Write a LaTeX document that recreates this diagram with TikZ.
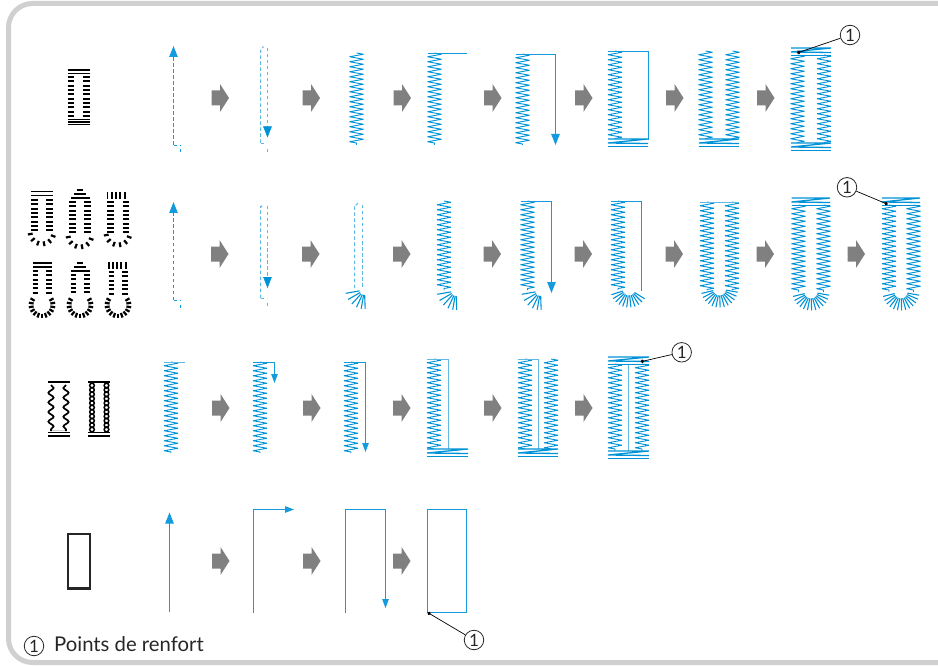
\documentclass[tikz,border=0pt]{standalone}
\usepackage{fontspec}
\setmainfont{Lato}
\usetikzlibrary{arrows.meta,decorations.pathmorphing}
\definecolor{stitchblue}{RGB}{0,146,214}
\definecolor{guideblue}{RGB}{20,155,222}
\definecolor{paleblue}{RGB}{95,185,228}
\definecolor{arrowgray}{RGB}{128,128,128}
\definecolor{framegray}{RGB}{208,208,208}
\tikzset{
  stitch/.style={stitchblue, line width=0.9, line join=bevel, decorate,
    decoration={zigzag, amplitude=7, segment length=5}},
  barline/.style={stitchblue, line width=1.3, line join=bevel},
  ray/.style={stitchblue, line width=1.1},
  guide/.style={guideblue, line width=1},
  paleguide/.style={paleblue, line width=1},
  dashline/.style={guideblue, line width=1, dash pattern=on 3.5 off 2.5},
  paledash/.style={paleblue, line width=1, dash pattern=on 3.5 off 2.5},
  bighead/.style={-{Triangle[length=11,width=8.5]}},
  smallhead/.style={-{Triangle[length=9,width=6.5]}},
  tick/.style={black, line width=1.9},
  leader/.style={black, line width=0.7, -{Circle[length=3.5,width=3.5]}},
  callout/.style={circle, draw=black!85, line width=0.8, inner sep=0, minimum size=19.5,
    text=black!85, font=\fontsize{17}{17}\selectfont},
}
\newcommand{\grayarrow}[2]{%
  \fill[arrowgray] (#1,#2-7.5) -- ++(8.5,0) -- ++(0,-6.5) -- ++(9,14) -- ++(-9,14) -- ++(0,-6.5) -- ++(-8.5,0) -- cycle;}
\newcommand{\stitchcol}[3]{\draw[stitch] (#1,#2) -- (#1,#3);}
\newcommand{\stitchbar}[3]{%
  \draw[barline] (#1,#3) -- (#2,#3) -- (#1,#3+4) -- (#2,#3+4.5);
  \draw[barline] (#1,#3+7.5) -- (#2,#3+7.5);}
\newcommand{\sidefan}[2]{%
  \foreach \a in {170,150,132,115,100,88} \draw[ray] (#1,#2) ++(\a:5) -- ++(\a:14);}
\newcommand{\roundfan}[5]{%
  \foreach \a in {#3,#4,...,#5} \draw[ray] (#1,#2) ++(\a:6.5) -- ++(\a:12);}
\newcommand{\iconrows}[5]{%
  \foreach \n in {1,...,#3} {
    \draw[tick] (#1-#5,#2+4.35*\n-4.35) -- (#1-#4,#2+4.35*\n-4.35);
    \draw[tick] (#1+#4,#2+4.35*\n-4.35) -- (#1+#5,#2+4.35*\n-4.35);}}
\newcommand{\iconfan}[6]{%
  \foreach \a in {#4,#5,...,#6} \draw[tick, line width=2.2] (#1,#2) ++(\a:#3) -- ++(\a:4.8);}
\newcommand{\iconpyramid}[2]{%
  \draw[tick] (#1-3.3,#2) -- (#1+3.3,#2);
  \draw[tick] (#1-6,#2+4) -- (#1+6,#2+4);
  \draw[tick] (#1-9.5,#2+8) -- (#1+9.5,#2+8);}
\begin{document}
\begin{tikzpicture}[x=1pt, y=-1pt, line cap=butt]
  \useasboundingbox (0,0) rectangle (938,666);
  \draw[framegray, line width=5, rounded corners=24] (938,3.5) -| (8.5,662.5) -- (938,662.5);

  \draw[tick] (67.5,70) -- (90,70);
  \draw[tick, line width=1] (67.5,73.5) -- (90,73.5);
  \iconrows{78.7}{77}{10}{4.6}{11.2}
  \draw[tick, line width=1.1] (67.5,119.3) -- (90,119.3);
  \draw[tick, line width=1.1] (67.5,122) -- (90,122);
  \draw[tick, line width=1.1] (67.5,124.7) -- (90,124.7);

  \draw[dashline, bighead] (173.5,145) -- (173.5,46);
  \draw[dashline] (173.5,145.5) -- (180.5,145.5);
  \draw[dashline] (180.5,149.5) -- (180.5,152.5);
  \grayarrow{211.5}{98}
  \draw[paledash] (260.5,143) -- (260.5,51) to[out=-90,in=-150] (263.5,46.5);
  \draw[paledash] (267.5,48) -- (267.5,126);
  \draw[stitchblue, bighead] (267.5,126) -- (267.5,137.5);
  \draw[paledash] (260.5,143.5) -- (266.5,143.5);
  \draw[paledash] (267.5,149.5) -- (267.5,152.5);
  \grayarrow{302.5}{98}
  \stitchcol{356.5}{53}{145}
  \grayarrow{393.5}{98}
  \stitchcol{434.5}{53}{145}
  \draw[guide] (428,53.5) -- (467,53.5);
  \grayarrow{484}{98}
  \stitchcol{522.5}{54}{145}
  \draw[guide, bighead] (516,54.5) -| (555.5,145);
  \grayarrow{575}{98}
  \stitchcol{615}{51}{139}
  \draw[guide] (608,51.5) -| (648.5,140);
  \stitchbar{608}{648}{139}
  \grayarrow{666}{98}
  \stitchcol{705.5}{51}{139}
  \stitchcol{732.5}{51}{139}
  \stitchbar{699}{739}{139}
  \grayarrow{757}{98}
  \stitchcol{797.5}{55}{143}
  \stitchcol{824}{55}{143}
  \stitchbar{791}{831}{48}
  \stitchbar{791}{831}{143}
  \coordinate (pointA) at (797,53);
  \node[callout] (markA) at (850,35) {1};
  \draw[leader] (markA) -- (pointA);

  \draw[tick] (31,191.5) -- (53,191.5);
  \draw[tick] (31,195.5) -- (53,195.5);
  \iconrows{42}{200}{8}{4.3}{11}
  \iconfan{42}{232}{9.5}{20}{50}{170}
  \iconpyramid{80}{190}
  \iconrows{80}{202}{8}{4}{10.7}
  \iconfan{80}{235}{9.5}{20}{50}{170}
  \foreach \x in {107.5,111.8,...,129} \draw[tick] (\x,192.3) -- (\x,199);
  \iconrows{118}{202}{8}{4.5}{11}
  \iconfan{118}{233}{9.5}{20}{50}{170}
  \draw[tick] (32.7,262.7) -- (51.7,262.7);
  \draw[tick] (32.7,266.7) -- (51.7,266.7);
  \iconrows{42}{271}{6}{4}{9.5}
  \iconfan{42}{305}{8.5}{-30}{-10}{210}
  \iconpyramid{80}{262.7}
  \iconrows{80}{275}{5}{4}{9.5}
  \iconfan{80}{305}{8.5}{-30}{-10}{210}
  \foreach \x in {108.8,113,...,127} \draw[tick] (\x,262.3) -- (\x,268.5);
  \iconrows{118}{272}{6}{4}{9.5}
  \iconfan{118}{305}{8.5}{-30}{-10}{210}

  \draw[dashline, bighead] (173.5,300) -- (173.5,202);
  \draw[dashline] (173.5,300.5) -- (180.5,300.5);
  \draw[dashline] (180.5,304.5) -- (180.5,307.5);
  \grayarrow{211}{254}
  \draw[paledash] (260.5,298) -- (260.5,207) to[out=-90,in=-150] (263.5,204);
  \draw[paledash] (267.5,206) -- (267.5,277);
  \draw[stitchblue, bighead] (267.5,277) -- (267.5,288);
  \draw[paledash] (260.5,298.5) -- (266.5,298.5);
  \draw[paledash] (267.5,303) -- (267.5,306);
  \grayarrow{302}{254}
  \draw[paledash] (354.5,288) -- (354.5,206) to[out=-90,in=-150] (358,203);
  \draw[paledash] (362.5,205) -- (362.5,288);
  \sidefan{364.5}{290}
  \grayarrow{393}{254}
  \stitchcol{444}{201}{290}
  \sidefan{456}{291}
  \grayarrow{483.5}{254}
  \stitchcol{527.5}{201}{290}
  \sidefan{540.5}{291}
  \draw[guide, bighead] (521,201.5) -| (551.5,293);
  \grayarrow{574.5}{254}
  \stitchcol{618}{201}{290}
  \draw[guide] (611,201.5) -| (641.5,291);
  \roundfan{629}{289}{32}{45}{170}
  \grayarrow{665.5}{254}
  \stitchcol{707}{202}{290}
  \stitchcol{732}{202}{290}
  \draw[paleguide] (700,202.5) -- (739,202.5);
  \roundfan{719.5}{289}{10}{23}{170}
  \grayarrow{756.5}{254}
  \stitchcol{798.5}{205}{292}
  \stitchcol{823.5}{205}{292}
  \stitchbar{791.5}{830}{198}
  \roundfan{811}{292}{10}{23}{170}
  \grayarrow{847.5}{254}
  \stitchcol{889}{205}{292}
  \stitchcol{913.5}{205}{292}
  \stitchbar{882}{920}{198}
  \roundfan{901}{292}{10}{23}{170}
  \coordinate (pointB) at (887.7,204.3);
  \node[callout] (markB) at (847,187.3) {1};
  \draw[leader] (markB) -- (pointB);

  \draw[tick] (48,381.7) -- (70,381.7);
  \draw[black, line width=1.7, decorate, decoration={snake, amplitude=2.6, segment length=9.6}] (51,385) -- (51,431);
  \draw[black, line width=1.7, decorate, decoration={snake, amplitude=2.6, segment length=9.6, mirror}] (66,385) -- (66,431);
  \draw[framegray, line width=0.8] (52,430.5) -- (65,430.5);
  \draw[tick, line width=1.1] (48,432.5) -- (70,432.5);
  \draw[tick, line width=1.1] (48,436) -- (70,436);
  \draw[tick] (88,381.7) -- (110,381.7);
  \foreach \n in {0,...,10} {
    \draw[black, line width=1.5] (92,385.5+4.4*\n) circle (2.3);
    \draw[black, line width=1.5] (106.5,385.5+4.4*\n) circle (2.3);}
  \draw[tick, line width=1.1] (88,432.5) -- (110,432.5);
  \draw[tick, line width=1.1] (88,436) -- (110,436);

  \stitchcol{171}{362}{453}
  \draw[paleguide] (164,362.5) -- (185,362.5);
  \grayarrow{212}{408}
  \stitchcol{260}{362}{453}
  \draw[guide, smallhead] (253,362.5) -| (274.5,383);
  \grayarrow{303}{408}
  \stitchcol{351}{362}{453}
  \draw[guide, smallhead] (344,362.5) -| (365.5,452);
  \grayarrow{393}{408}
  \stitchcol{434}{359}{449}
  \draw[paleguide] (427,359.5) -| (448.5,449);
  \stitchbar{427}{468}{449}
  \grayarrow{484}{408}
  \stitchcol{525}{359}{449}
  \stitchcol{551}{359}{449}
  \draw[paleguide] (518,359.5) -| (538.5,449);
  \stitchbar{518}{558}{449}
  \grayarrow{575}{408}
  \stitchcol{615}{364}{451}
  \stitchcol{642}{364}{451}
  \draw[paleguide] (628.5,364) -- (628.5,451);
  \stitchbar{608}{649}{357}
  \stitchbar{608}{649}{451}
  \coordinate (pointC) at (640.7,361.7);
  \node[callout] (markC) at (681.7,352.3) {1};
  \draw[leader] (markC) -- (pointC);

  \draw[black!85, line width=2.3] (67.7,534) rectangle (90,588.5);
  \draw[guide, bighead] (169.5,612) -- (169.5,512.5);
  \grayarrow{212}{561}
  \draw[guide, smallhead] (253.5,612.5) |- (294,509.5);
  \grayarrow{303}{561}
  \draw[guide, smallhead] (345.5,612.5) |- (385.5,509.5) -- (385.5,608);
  \grayarrow{393}{561}
  \draw[guide] (427.5,509.5) rectangle (466.5,612.5);
  \coordinate (pointD) at (427.6,612.5);
  \node[callout] (markD) at (474,640) {1};
  \draw[leader] (markD) -- (pointD);

  \node[callout] (markE) at (34,646) {1};
  \node[anchor=base west, inner sep=0, text=black!85, font=\fontsize{20.3}{21}\selectfont] (legend) at (54,651.5) {Points de renfort};
\end{tikzpicture}
\end{document}
